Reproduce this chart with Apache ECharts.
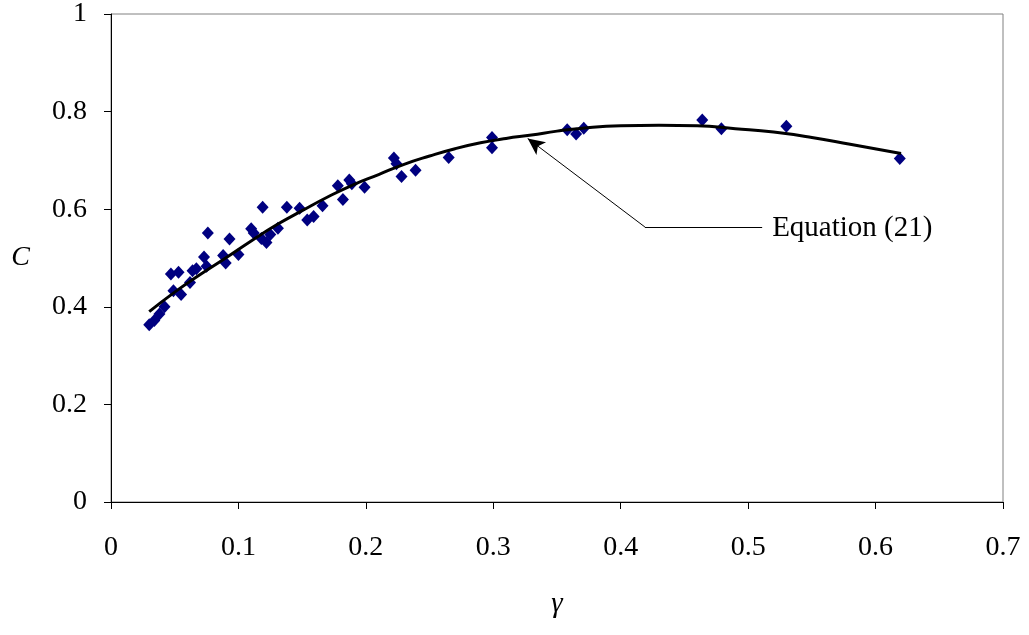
<!DOCTYPE html>
<html>
<head>
<meta charset="utf-8">
<script src="https://cdn.jsdelivr.net/npm/echarts@6/dist/echarts.min.js"></script>
<style>
  html, body { margin: 0; padding: 0; background: #fff; }
  #chart { width: 1029px; height: 635px; }
</style>
</head>
<body>
<div id="chart"></div>
<script>
// Measured points: shear parameter gamma vs coefficient C
const gammaObs = [0.030, 0.034, 0.038, 0.042, 0.047, 0.053, 0.049, 0.055, 0.062, 0.064,
  0.067, 0.073, 0.075, 0.076, 0.088, 0.090, 0.093, 0.100, 0.110, 0.112,
  0.118, 0.119, 0.122, 0.125, 0.131, 0.138, 0.148, 0.154, 0.159, 0.166,
  0.178, 0.182, 0.187, 0.189, 0.199, 0.222, 0.224, 0.228, 0.239, 0.265,
  0.299, 0.299, 0.358, 0.365, 0.371, 0.464, 0.479, 0.530, 0.619];
const cObs = [0.363, 0.372, 0.385, 0.400, 0.467, 0.471, 0.433, 0.425, 0.450, 0.474,
  0.478, 0.502, 0.483, 0.551, 0.505, 0.490, 0.539, 0.507, 0.560, 0.551,
  0.540, 0.604, 0.532, 0.548, 0.561, 0.604, 0.602, 0.578, 0.585, 0.607,
  0.648, 0.620, 0.660, 0.652, 0.645, 0.705, 0.693, 0.667, 0.680, 0.706,
  0.747, 0.726, 0.763, 0.754, 0.766, 0.783, 0.765, 0.770, 0.704];

// Equation (21) curve, sampled
const gammaFit = [0.03, 0.05, 0.07, 0.09, 0.11, 0.13, 0.15, 0.17, 0.19, 0.21, 0.23, 0.25, 0.27,
  0.29, 0.31, 0.33, 0.35, 0.37, 0.40, 0.43, 0.46, 0.49, 0.52, 0.55, 0.58, 0.62];
const cFit = [0.390, 0.430, 0.466, 0.500, 0.535, 0.568, 0.597, 0.625, 0.650, 0.671, 0.692, 0.709, 0.724,
  0.736, 0.745, 0.752, 0.760, 0.766, 0.771, 0.772, 0.771, 0.765, 0.758, 0.747, 0.733, 0.714];

// Callout for the curve
const calloutLabel = 'Equation (21)';
const calloutElbow = [0.419, 0.5635];
const calloutTip = [0.327, 0.745];
const calloutEnd = [0.511, 0.5635];

const font = 'Liberation Serif, Times New Roman, serif';

const chart = echarts.init(document.getElementById('chart'));
chart.setOption({
  animation: false,
  backgroundColor: '#fff',
  grid: { left: 111, top: 14, right: 26, bottom: 133, show: true, borderColor: '#808080', borderWidth: 1, backgroundColor: 'transparent' },
  xAxis: {
    type: 'value', min: 0, max: 0.7, interval: 0.1,
    name: 'γ', nameLocation: 'middle', nameGap: 88,
    nameTextStyle: { fontFamily: font, fontStyle: 'italic', fontSize: 29, color: '#000' },
    axisLine: { show: true, onZero: false, lineStyle: { color: '#000', width: 1 } },
    axisTick: { show: true, inside: false, length: 7, lineStyle: { color: '#000' } },
    axisLabel: { fontFamily: font, fontSize: 28, color: '#000', margin: 32,
      formatter: v => String(Math.round(v * 10) / 10) },
    splitLine: { show: false }
  },
  yAxis: {
    type: 'value', min: 0, max: 1, interval: 0.2,
    name: 'C', nameLocation: 'middle', nameGap: 81, nameRotate: 0,
    nameTextStyle: { fontFamily: font, fontStyle: 'italic', fontSize: 28, color: '#000', padding: [14, 0, 0, 0] },
    axisLine: { show: true, onZero: false, lineStyle: { color: '#000', width: 1 } },
    axisTick: { show: true, inside: false, length: 7, lineStyle: { color: '#000' } },
    axisLabel: { fontFamily: font, fontSize: 28, color: '#000', margin: 24,
      formatter: v => String(Math.round(v * 10) / 10) },
    splitLine: { show: false }
  },
  series: [
    {
      type: 'scatter',
      data: gammaObs.map((g, i) => [g, cObs[i]]),
      symbol: 'diamond',
      symbolSize: [12, 13],
      itemStyle: { color: '#000080', opacity: 1 },
      z: 2
    },
    {
      type: 'line',
      data: gammaFit.map((g, i) => [g, cFit[i]]),
      smooth: true,
      showSymbol: false,
      lineStyle: { color: '#000', width: 3 },
      z: 3,
      markLine: {
        silent: true,
        animation: false,
        lineStyle: { color: '#000', width: 1, type: 'solid' },
        data: [
          [
            { coord: calloutElbow, symbol: 'none' },
            { coord: calloutTip, symbol: 'arrow', symbolSize: [12, 17] }
          ],
          [
            { coord: calloutElbow, symbol: 'none' },
            { coord: calloutEnd, symbol: 'none' }
          ]
        ],
        label: { show: false }
      }
    }
  ],
  graphic: []
});

// Place the callout text just right of the horizontal leader
const endPx = chart.convertToPixel({ gridIndex: 0 }, calloutEnd);
chart.setOption({
  graphic: [{
    type: 'text',
    x: endPx[0] + 10,
    y: endPx[1] + 1,
    style: { text: calloutLabel, fontFamily: font, fontSize: 29, fill: '#000', textVerticalAlign: 'middle' }
  }]
});
</script>
</body>
</html>
